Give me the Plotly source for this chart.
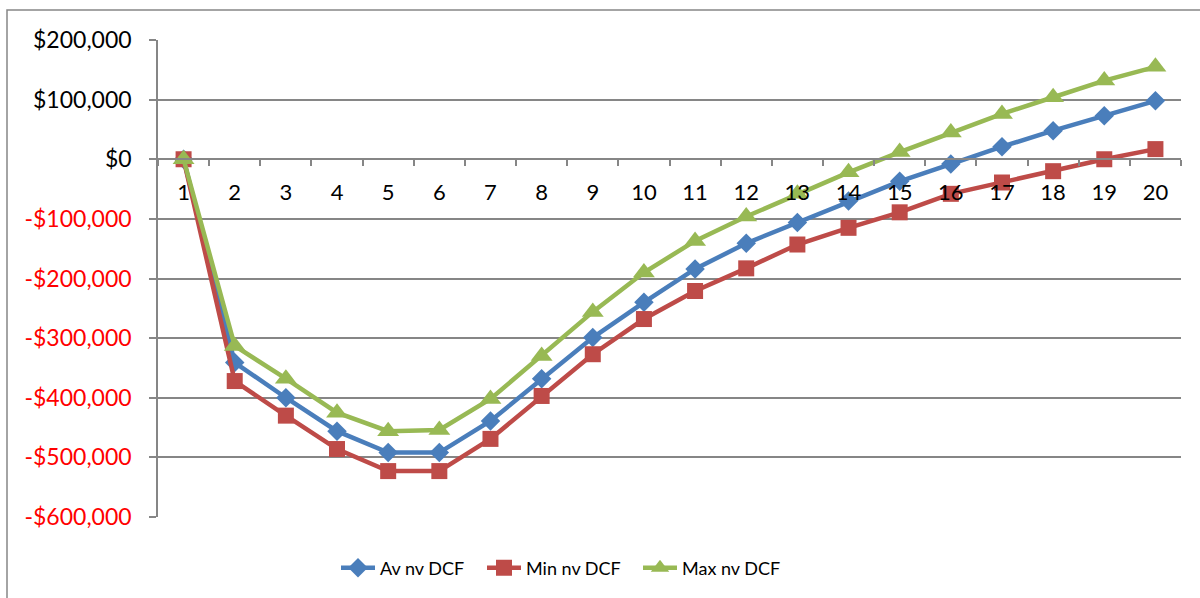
import plotly.graph_objects as go

years = [str(i) for i in range(1, 21)]

av_dcf = [0, -341000, -400000, -456000, -492000, -492000, -439000, -368000, -299000, -240000,
          -184000, -141000, -106000, -70000, -37000, -8000, 21000, 48000, 73000, 98000]
min_dcf = [0, -372000, -430000, -486000, -523000, -523000, -469000, -397000, -327000, -268000,
           -221000, -183000, -143000, -115000, -89000, -58000, -39000, -20000, 0, 17000]
max_dcf = [0, -313000, -368000, -425000, -456000, -454000, -402000, -330000, -256000, -190000,
           -137000, -96000, -58000, -22000, 12000, 45000, 76000, 104000, 132000, 155000]

y_ticks = [200000, 100000, 0, -100000, -200000, -300000, -400000, -500000, -600000]


def money(v):
    s = f"${abs(v):,}"
    if v < 0:
        return f'<span style="color:#ff0000">-{s}</span>'
    return s


FONT = "Lato, 'Open Sans', sans-serif"
GRID = "#868686"
PLOT_L, PLOT_W = 158, 1023


def px_to_paper(px):
    return (px - PLOT_L) / PLOT_W


fig = go.Figure()
fig.add_trace(go.Scatter(x=years, y=av_dcf, name="Av nv DCF", mode="lines+markers",
                         line=dict(color="#4a7ebb", width=4.5),
                         marker=dict(symbol="diamond", size=15, color="#4a7ebb"),
                         legend="legend"))
fig.add_trace(go.Scatter(x=years, y=min_dcf, name="Min nv DCF", mode="lines+markers",
                         line=dict(color="#be4b48", width=4.5),
                         marker=dict(symbol="square", size=16, color="#be4b48"),
                         legend="legend2"))
fig.add_trace(go.Scatter(x=years, y=max_dcf, name="Max nv DCF", mode="lines+markers",
                         line=dict(color="#98b954", width=4.5),
                         marker=dict(symbol="triangle-up", size=19, color="#98b954"),
                         legend="legend3"))

legend_style = dict(orientation="h", xanchor="left", y=-0.107, yanchor="middle",
                    font=dict(size=18, family=FONT), bgcolor="rgba(0,0,0,0)",
                    itemwidth=34)

fig.update_layout(
    width=1200, height=598,
    margin=dict(l=158, r=19, t=40, b=81),
    paper_bgcolor="white", plot_bgcolor="white",
    font=dict(family=FONT, color="black"),
    showlegend=True,
    legend=dict(x=px_to_paper(336), **legend_style),
    legend2=dict(x=px_to_paper(482), **legend_style),
    legend3=dict(x=px_to_paper(638), **legend_style),
    xaxis=dict(type="category", anchor="free", position=0.75,
               showline=True, linecolor=GRID, linewidth=1.5,
               ticks="outside", tickson="boundaries", ticklen=6, tickcolor=GRID, tickwidth=1.5,
               showgrid=False, tickfont=dict(size=22, family=FONT),
               ticklabelstandoff=14, range=[-0.5, 19.5]),
    yaxis=dict(range=[-600000, 200000], tickvals=y_ticks, ticktext=[money(v) for v in y_ticks],
               showline=True, linecolor=GRID, linewidth=1.5,
               ticks="outside", ticklen=7, tickcolor=GRID, tickwidth=1.5,
               showgrid=True, gridcolor=GRID, gridwidth=1.5, zeroline=False,
               tickfont=dict(size=23, family=FONT), ticklabelstandoff=13),
)

# chart frame
fig.add_shape(type="rect", xref="paper", yref="paper",
              x0=-151 / PLOT_W, x1=1.05, y0=-0.2, y1=1 + 30 / 477,
              line=dict(color=GRID, width=1.5), fillcolor="rgba(0,0,0,0)", layer="below")

fig.write_html("out.html")
